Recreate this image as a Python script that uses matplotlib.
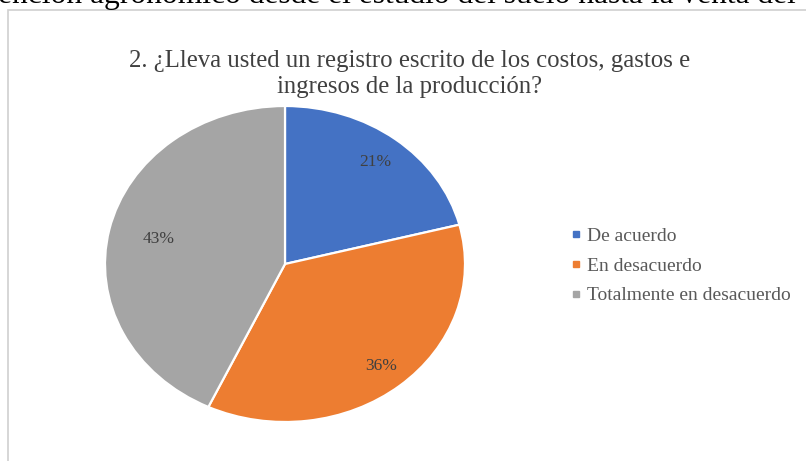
import matplotlib
matplotlib.use("Agg")
import matplotlib.pyplot as plt
from matplotlib.lines import Line2D
from matplotlib.patches import Rectangle
import numpy as np

# Survey answers for question 2
categories = ["De acuerdo", "En desacuerdo", "Totalmente en desacuerdo"]
values = [21, 36, 43]
colors = ["#4472C4", "#ED7D31", "#A5A5A5"]
title = "2. ¿Lleva usted un registro escrito de los costos, gastos e\ningresos de la producción?"
page_line = "ención agronómico desde el estudio del suelo hasta la venta del"

W, H = 806, 461
fig = plt.figure(figsize=(W / 100, H / 100), dpi=100)
fig.patch.set_facecolor("white")

serif = ["Liberation Serif", "DejaVu Serif"]

# line of body text from the surrounding page, cut by the top edge
fig.text(-0.002, 1 - 3 / H, page_line, family=serif, fontsize=22.7,
         color="black", ha="left", va="baseline")

# chart area border
fig.patches.append(Rectangle((8 / W, -0.05), 1.2, 1 - 10 / H + 0.05,
                             transform=fig.transFigure, fill=False,
                             edgecolor="#D0D0D0", linewidth=1.2))

# pie
left, right, top, bottom = 105, 465, 106, 422
ax = fig.add_axes([left / W, 1 - bottom / H, (right - left) / W, (bottom - top) / H])
wedges, _ = ax.pie(values, colors=colors, startangle=90, counterclock=False,
                   radius=1.0, wedgeprops=dict(edgecolor="white", linewidth=1.6))
ax.set_aspect("auto")
ax.set_xlim(-1, 1)
ax.set_ylim(-1, 1)
ax.axis("off")

# percentage labels inside the slices
label_dist = [0.82, 0.84, 0.72]
start = 90.0
total = float(sum(values))
for v, d in zip(values, label_dist):
    span = 360.0 * v / total
    mid = np.deg2rad(start - span / 2)
    ax.text(d * np.cos(mid), d * np.sin(mid), f"{v}%", family=serif,
            fontsize=12.5, color="#404040", ha="center", va="center")
    start -= span

# title
fig.text(0.508, 1 - 74 / H, title, family=serif, fontsize=17.8, color="#404040",
         ha="center", va="center", linespacing=1.2)

# legend
handles = [Line2D([], [], marker="s", linestyle="none", markersize=4,
                  markerfacecolor=c, markeredgecolor=c) for c in colors]
leg = fig.legend(handles, categories, loc="center left",
                 bbox_to_anchor=(571 / W, 1 - 266 / H), frameon=False,
                 prop={"family": serif, "size": 14}, handlelength=0.5,
                 handletextpad=0.3, labelspacing=0.62, borderpad=0,
                 borderaxespad=0)
for t in leg.get_texts():
    t.set_color("#595959")

fig.savefig("out.png", dpi=100, facecolor="white")
